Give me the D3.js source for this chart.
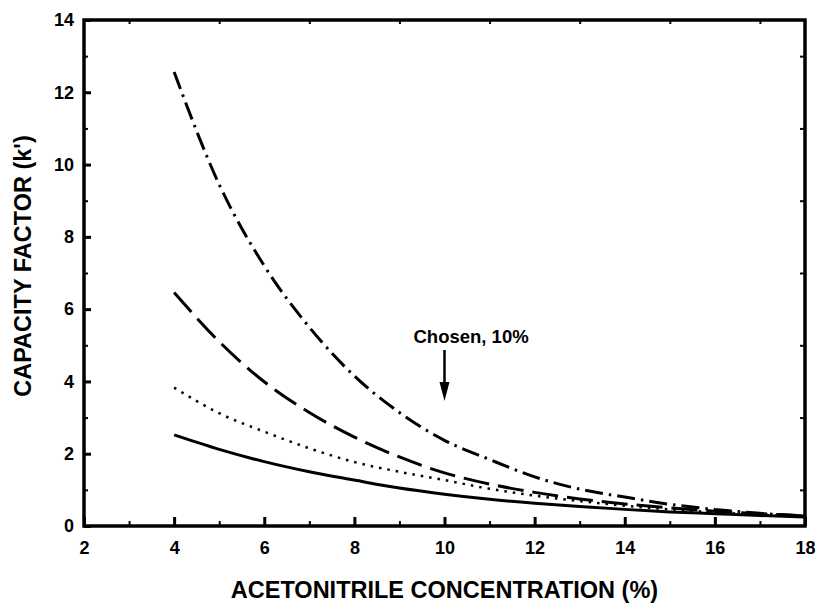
<!DOCTYPE html>
<html lang="en">

<head>
  <meta charset="UTF-8" />
  <title>Capacity factor</title>
  <script src="https://cdn.jsdelivr.net/npm/d3@7"></script>
  <style>
    body {
      margin: 0;
      background: #fff;
    }

    text {
      font-family: "Liberation Sans", Arial, sans-serif;
      font-weight: bold;
      fill: #000;
    }
  </style>
</head>

<body>
  <svg id="chart" width="819" height="603"></svg>

  <script>
    // acetonitrile concentration (%)
    let conc = [4, 5, 6, 7, 8, 9, 10, 11, 12, 13, 14, 15, 16, 17, 18];
    // capacity factor k' for each curve
    let kDashDot = [12.56, 9.45, 7.2, 5.5, 4.15, 3.14, 2.37, 1.84, 1.36, 1.02, 0.8, 0.6, 0.46, 0.35, 0.28];
    let kDashed = [6.46, 5.1, 3.99, 3.14, 2.46, 1.91, 1.47, 1.16, 0.93, 0.75, 0.61, 0.5, 0.41, 0.34, 0.28];
    let kDotted = [3.83, 3.12, 2.61, 2.15, 1.77, 1.5, 1.27, 1.03, 0.84, 0.69, 0.56, 0.46, 0.38, 0.31, 0.26];
    let kSolid = [2.52, 2.12, 1.78, 1.5, 1.27, 1.05, 0.88, 0.74, 0.63, 0.54, 0.46, 0.39, 0.34, 0.29, 0.25];

    let xMajor = [2, 4, 6, 8, 10, 12, 14, 16, 18];
    let xMinor = [3, 5, 7, 9, 11, 13, 15, 17];
    let yMajor = [0, 2, 4, 6, 8, 10, 12, 14];
    let yMinor = [1, 3, 5, 7, 9, 11, 13];

    let chosen = 10;

    let svg = d3.select("#chart");
    let margin = { top: 20, right: 14, bottom: 77, left: 84 };
    let w = 819 - margin.left - margin.right;
    let h = 603 - margin.top - margin.bottom;

    let g = svg.append("g").attr("transform", "translate(" + margin.left + "," + margin.top + ")");

    let x = d3.scaleLinear().domain([2, 18]).range([0, w]);
    let y = d3.scaleLinear().domain([0, 14]).range([h, 0]);

    function styleLabels(sel) {
      sel.attr("font-family", null).attr("font-size", null);
      sel.selectAll("text")
        .style("font-family", "'Liberation Sans', Arial, sans-serif")
        .style("font-weight", "bold")
        .style("font-size", "18px");
    }

    // bottom axis, ticks pointing in
    let xAx = g.append("g")
      .attr("transform", "translate(0," + h + ")")
      .call(d3.axisBottom(x).tickValues(xMajor).tickSizeInner(-9).tickSizeOuter(0).tickPadding(15));
    styleLabels(xAx);
    xAx.selectAll(".tick line").attr("stroke-width", 3);

    let xAxMinor = g.append("g")
      .attr("transform", "translate(0," + h + ")")
      .call(d3.axisBottom(x).tickValues(xMinor).tickSizeInner(-5).tickSizeOuter(0).tickFormat(""));
    xAxMinor.selectAll(".tick line").attr("stroke-width", 2);

    // left axis
    let yAx = g.append("g")
      .call(d3.axisLeft(y).tickValues(yMajor).tickSizeInner(-7).tickSizeOuter(0).tickPadding(10));
    styleLabels(yAx);
    yAx.selectAll(".tick line").attr("stroke-width", 3);

    let yAxMinor = g.append("g")
      .call(d3.axisLeft(y).tickValues(yMinor).tickSizeInner(-4).tickSizeOuter(0).tickFormat(""));
    yAxMinor.selectAll(".tick line").attr("stroke-width", 2);

    // top and right: only small ticks at odd values
    g.append("g")
      .call(d3.axisTop(x).tickValues(xMinor).tickSizeInner(-4).tickSizeOuter(0).tickFormat(""))
      .selectAll(".tick line").attr("stroke-width", 2);
    g.append("g")
      .attr("transform", "translate(" + w + ",0)")
      .call(d3.axisRight(y).tickValues(yMinor).tickSizeInner(-5).tickSizeOuter(0).tickFormat(""))
      .selectAll(".tick line").attr("stroke-width", 2);

    g.selectAll(".domain").remove();

    // frame
    g.append("rect")
      .attr("width", w)
      .attr("height", h)
      .attr("fill", "none")
      .attr("stroke", "#000")
      .attr("stroke-width", 3.5);

    // curves
    let line = d3.line()
      .x(function (d) { return x(d[0]); })
      .y(function (d) { return y(d[1]); })
      .curve(d3.curveMonotoneX);

    function addCurve(vals, dash, width) {
      g.append("path")
        .datum(d3.zip(conc, vals))
        .attr("d", line)
        .attr("fill", "none")
        .attr("stroke", "#000")
        .attr("stroke-width", width)
        .attr("stroke-dasharray", dash);
    }

    addCurve(kSolid, null, 3);
    addCurve(kDotted, "2.5,6", 2.5);
    addCurve(kDashed, "26,9", 3);
    addCurve(kDashDot, "18,6,2.5,6", 3);

    // "Chosen" arrow
    let ax = x(chosen);
    g.append("line")
      .attr("x1", ax).attr("x2", ax)
      .attr("y1", 330).attr("y2", 366)
      .attr("stroke", "#000")
      .attr("stroke-width", 2.5);
    g.append("path")
      .attr("d", "M" + (ax - 5) + ",362 L" + (ax + 5) + ",362 L" + ax + ",381 Z")
      .attr("fill", "#000");
    g.append("text")
      .attr("x", ax - 31)
      .attr("y", 323)
      .style("font-size", "18.5px")
      .text("Chosen, 10%");

    // axis titles
    svg.append("text")
      .attr("x", margin.left + x(10))
      .attr("y", 598)
      .attr("text-anchor", "middle")
      .style("font-size", "23.5px")
      .text("ACETONITRILE CONCENTRATION (%)");

    svg.append("text")
      .attr("transform", "translate(31," + 266 + ") rotate(-90)")
      .attr("text-anchor", "middle")
      .style("font-size", "23.5px")
      .text("CAPACITY FACTOR (k')");
  </script>
</body>

</html>
